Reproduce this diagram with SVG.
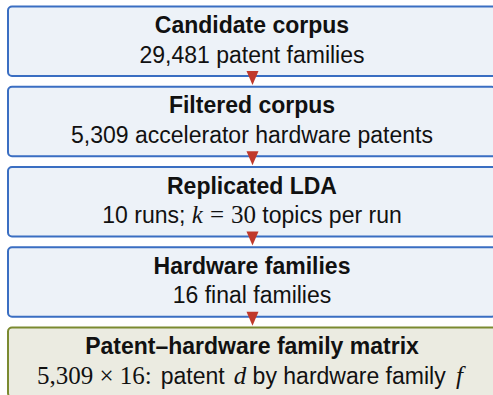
<svg xmlns="http://www.w3.org/2000/svg" width="493" height="395" viewBox="0 0 493 395">
<style>
.box{fill:#edf2f8;stroke:#3a6ec2;stroke-width:2}
.fin{fill:#ebebe1;stroke:#7b8a30;stroke-width:2}
.t{font-family:"Liberation Sans",Arial,sans-serif;font-size:23px;font-weight:bold;fill:#111;text-anchor:middle}
.s{font-family:"Liberation Sans",Arial,sans-serif;font-size:23px;fill:#111;text-anchor:middle}
.m{font-family:"Liberation Serif","Times New Roman",serif;font-size:25px}
.i{font-family:"Liberation Serif","Times New Roman",serif;font-style:italic;font-size:25px}
.arr{fill:#c0392b}
</style>
<rect x="0" y="0" width="493" height="395" fill="#ffffff"/>
<g id="n1">
<rect class="box" x="8" y="6.5" width="488" height="69.5" rx="4"/>
<text class="t" x="252" y="33">Candidate corpus</text>
<text class="s" x="252" y="62.5">29,481 patent families</text>
</g>
<g id="n2">
<rect class="box" x="8" y="86.8" width="488" height="69.5" rx="4"/>
<text class="t" x="252" y="113.3">Filtered corpus</text>
<text class="s" x="252" y="142.8">5,309 accelerator hardware patents</text>
</g>
<g id="n3">
<rect class="box" x="8" y="167" width="488" height="69.5" rx="4"/>
<text class="t" x="252" y="193.5">Replicated LDA</text>
<text class="s" x="252" y="223">10 runs; <tspan class="i">k</tspan><tspan class="m" dx="7">=</tspan><tspan class="m" dx="7">30</tspan> topics per run</text>
</g>
<g id="n4">
<rect class="box" x="8" y="247.2" width="488" height="69.5" rx="4"/>
<text class="t" x="252" y="273.7">Hardware families</text>
<text class="s" x="252" y="303.2">16 final families</text>
</g>
<g id="n5">
<rect class="fin" x="8" y="327.5" width="488" height="69.5" rx="4"/>
<text class="t" x="252" y="354">Patent–hardware family matrix</text>
<text class="s" x="250" y="383.5"><tspan class="m">5,309 × 16:</tspan><tspan dx="9">patent</tspan><tspan class="i" dx="9">d</tspan> by hardware family <tspan class="i" dx="4">f</tspan></text>
</g>
<g id="connectors">
<polygon class="arr" points="246.5,71 258.5,71 252.5,85"/>
<polygon class="arr" points="246.5,151.3 258.5,151.3 252.5,165.3"/>
<polygon class="arr" points="246.5,231.5 258.5,231.5 252.5,245.5"/>
<polygon class="arr" points="246.5,311.7 258.5,311.7 252.5,325.7"/>
</g>
</svg>
